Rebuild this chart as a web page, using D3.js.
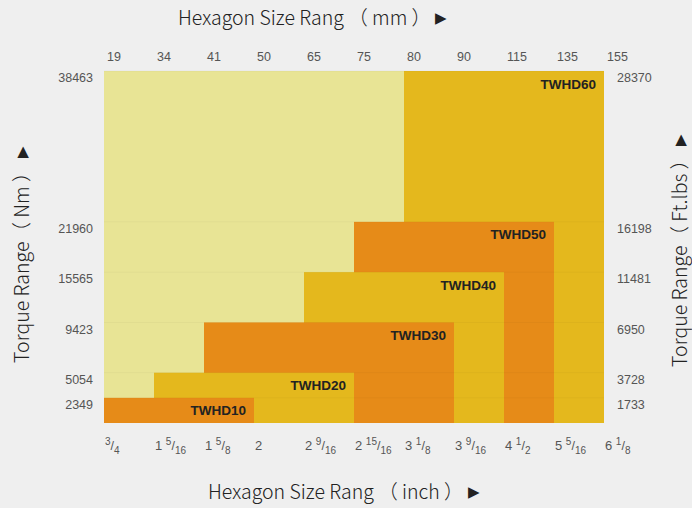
<!DOCTYPE html>
<html><head><meta charset="utf-8">
<script src="https://cdn.jsdelivr.net/npm/d3@7"></script>
<style>
html,body{margin:0;padding:0;background:#efefef;}
svg{display:block;}
</style></head>
<body><svg id="c" width="692" height="508"></svg>
<script>
// ---- data ----
const mmTicks = [19, 34, 41, 50, 65, 75, 80, 90, 115, 135, 155];
const inchTicks = [["","3","4"],["1","5","16"],["1","5","8"],["2","",""],["2","9","16"],["2","15","16"],["3","1","8"],["3","9","16"],["4","1","2"],["5","5","16"],["6","1","8"]];
const nmLevels = [2349, 5054, 9423, 15565, 21960, 38463];
const ftLevels = [1733, 3728, 6950, 11481, 16198, 28370];
const models = ["TWHD10", "TWHD20", "TWHD30", "TWHD40", "TWHD50", "TWHD60"];
const sizeMin = [19, 34, 41, 65, 75, 80];
const sizeMax = [50, 75, 90, 115, 135, 155];
const torqueNm = [2349, 5054, 9423, 15565, 21960, 38463];
const levelSteps = [0, 1, 2, 4, 6, 8, 14];

const colors = {light:"#e8e495", gold:"#e4b81d", orange:"#e68b18"};
const svg = d3.select("#c");
const L = 104, R = 604, T = 71, B = 423;

const x = d3.scalePoint().domain(mmTicks).range([L, R]).padding(0);
const unit = (B - T) / levelSteps[levelSteps.length - 1];
const y = d3.scaleLinear().domain([0, ...nmLevels]).range(levelSteps.map(s => B - s * unit));

// background
svg.append("rect").attr("x", L).attr("y", y(nmLevels[nmLevels.length-1])).attr("width", R - L)
  .attr("height", B - y(nmLevels[nmLevels.length-1])).attr("fill", colors.light);

// rects from largest to smallest
const idx = d3.range(models.length).reverse();
const g = svg.append("g");
idx.forEach(i => {
  const x0 = x(sizeMin[i]), x1 = x(sizeMax[i]), y0 = y(torqueNm[i]);
  g.append("rect").attr("x", x0).attr("y", y0).attr("width", x1 - x0).attr("height", B - y0)
    .attr("fill", i % 2 === 0 ? colors.orange : colors.gold);
  g.append("text").attr("x", x1 - 8).attr("y", y0 + 14).attr("text-anchor", "end")
    .attr("dominant-baseline", "middle")
    .attr("font-family", "Liberation Sans, Arial, sans-serif").attr("font-weight", "bold")
    .attr("font-size", 13.5).attr("fill", "#222").text(models[i]);
});

// faint level lines
nmLevels.forEach(v => {
  svg.append("line").attr("x1", L).attr("x2", R).attr("y1", y(v)).attr("y2", y(v))
    .attr("stroke", "#000").attr("stroke-opacity", 0.03);
});

const tickFont = "Liberation Sans, Arial, sans-serif";
// top ticks
svg.append("g").selectAll("text").data(mmTicks).join("text")
  .attr("x", d => x(d) + 3).attr("y", 58).attr("dominant-baseline", "middle")
  .attr("font-family", tickFont).attr("font-size", 12.5).attr("fill", "#555").text(d => d);

// left / right ticks
svg.append("g").selectAll("text").data(nmLevels).join("text")
  .attr("x", 93).attr("y", d => y(d) + 8).attr("text-anchor", "end").attr("dominant-baseline", "middle")
  .attr("font-family", tickFont).attr("font-size", 12.5).attr("fill", "#555").text(d => d);
svg.append("g").selectAll("text").data(ftLevels).join("text")
  .attr("x", 617).attr("y", (d, i) => y(nmLevels[i]) + 8).attr("dominant-baseline", "middle")
  .attr("font-family", tickFont).attr("font-size", 12.5).attr("fill", "#555").text(d => d);

// bottom inch ticks
const bt = svg.append("g").selectAll("text").data(inchTicks).join("text")
  .attr("x", (d, i) => x(mmTicks[i]) + 1).attr("y", 450)
  .attr("font-family", tickFont).attr("font-size", 13).attr("fill", "#555");
bt.each(function(d) {
  const t = d3.select(this);
  if (d[0]) t.append("tspan").text(d[0] + (d[1] ? " " : ""));
  if (d[1]) {
    t.append("tspan").attr("font-size", 10).attr("dy", -5).text(d[1]);
    t.append("tspan").attr("font-size", 12.5).attr("dy", 5).text("/");
    t.append("tspan").attr("font-size", 10).attr("dy", 4).text(d[2]);
  }
});

// titles
const titleFont = "Noto Sans CJK SC, Noto Sans, sans-serif";
function title(sel, label) {
  sel.attr("font-family", titleFont).attr("font-size", 19.5).attr("font-weight", 300).attr("fill", "#222")
    .attr("dominant-baseline", "middle");
  sel.append("tspan").text(label + " ");
  sel.append("tspan").attr("font-family", "DejaVu Sans").attr("font-size", 15).attr("dy", -2).text("▶");
  return sel;
}
title(svg.append("text").attr("x", 178).attr("y", 20), "Hexagon Size Rang （ mm ）");
title(svg.append("text").attr("x", 208).attr("y", 494), "Hexagon Size Rang （ inch ）");
title(svg.append("text").attr("transform", "translate(24,363) rotate(-90)"), "Torque Range（ Nm ）");
title(svg.append("text").attr("transform", "translate(682,367) rotate(-90)"), "Torque Range（ Ft.lbs ）");
</script></body></html>
